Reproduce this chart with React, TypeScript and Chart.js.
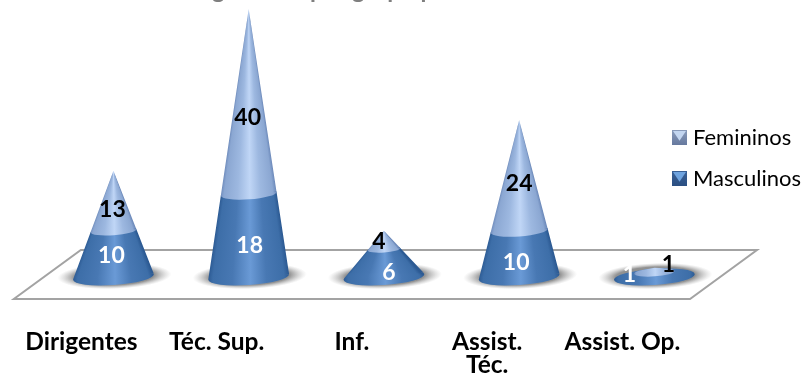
import React, { useEffect, useRef } from "react";
import { Chart, registerables } from "chart.js";

Chart.register(...registerables);

const categories: (string | string[])[] = ["Dirigentes", "Téc. Sup.", "Inf.", ["Assist.", "Téc."], "Assist. Op."];
const masculinos = [10, 18, 6, 10, 1];
const femininos = [13, 40, 4, 24, 1];
const titleText = "Segmentos por grupo pessoal";

// Label offsets from the middle of each cone section, in pixels.
const lowerLabelNudge = [[-2, 2], [1, 10], [5, 9], [-3, 9], [-25, 0]];
const upperLabelNudge = [[-1, 9], [-1, 16], [-5, 2], [0, 8], [14, -5]];

const FONT = "Lato, Carlito, sans-serif";
const DEPTH_X = 32;
const DEPTH_Y = 22;
const FLOOR_X = 67;
const FLOOR_Y = 49;
const CONE_R = 40.5;
const RY_RATIO = 8 / 40.5;
const TILT = (-4 * Math.PI) / 180;

const lowerShade = ["#2c5a93", "#3d6ea8", "#4878b3", "#6a9ad6", "#4878b3", "#3d6ea8", "#2c5a93"];
const upperShade = ["#6f8cbc", "#8ba7d2", "#9db8e0", "#c0d6f6", "#9db8e0", "#8ba7d2", "#6f8cbc"];
const shadeStops = [0, 0.06, 0.3, 0.52, 0.72, 0.94, 1];

function shadeFor(ctx: CanvasRenderingContext2D, cx: number, r: number, colors: string[]) {
  const g = ctx.createLinearGradient(cx - r, 0, cx + r, 0);
  colors.forEach((c, i) => g.addColorStop(shadeStops[i], c));
  return g;
}

// Outline of one cone section: its two end ellipses joined by their common tangents.
function frustumPath(
  ctx: CanvasRenderingContext2D,
  cx: number,
  y0: number,
  r0: number,
  y1: number,
  r1: number,
  coneHeight: number
) {
  const h = coneHeight / (CONE_R * RY_RATIO);
  ctx.beginPath();
  ctx.ellipse(cx, y0, r0, r0 * RY_RATIO, TILT, 0, Math.PI * 2);
  ctx.closePath();
  if (h > 1) {
    const kx = Math.sqrt(1 - 1 / (h * h));
    const ky = RY_RATIO / h;
    const point = (y: number, r: number, side: number) => {
      const lx = side * r * kx;
      const ly = -r * ky;
      return [cx + lx * Math.cos(TILT) - ly * Math.sin(TILT), y + lx * Math.sin(TILT) + ly * Math.cos(TILT)];
    };
    const a = point(y0, r0, -1);
    const b = point(y1, r1, -1);
    const c = point(y1, r1, 1);
    const d = point(y0, r0, 1);
    ctx.moveTo(a[0], a[1]);
    ctx.lineTo(b[0], b[1]);
    ctx.lineTo(c[0], c[1]);
    ctx.lineTo(d[0], d[1]);
    ctx.closePath();
  }
  if (r1 > 0) {
    ctx.moveTo(cx + r1, y1);
    ctx.ellipse(cx, y1, r1, r1 * RY_RATIO, TILT, 0, Math.PI * 2);
    ctx.closePath();
  }
}

function drawSection(
  ctx: CanvasRenderingContext2D,
  cx: number,
  baseY: number,
  apexY: number,
  y0: number,
  r0: number,
  y1: number,
  r1: number,
  colors: string[]
) {
  ctx.save();
  frustumPath(ctx, cx, y0, r0, y1, r1, baseY - apexY);
  ctx.clip();
  const ry = CONE_R * RY_RATIO;
  const flat = baseY - apexY < 2 * ry;
  const top = Math.floor(Math.min(y1, apexY) - ry - 2);
  const bottom = Math.ceil(y0 + ry + 2);
  for (let y = top; y < bottom; y++) {
    const t = (y - apexY) / (baseY - apexY);
    let r = Math.min(CONE_R, Math.max(1.5, CONE_R * t));
    // Keep the shading wide enough for the flare of the base ellipse.
    const v = (y - baseY) / (ry + 3);
    if (Math.abs(v) < 1) r = Math.max(r, CONE_R * Math.sqrt(1 - v * v));
    if (flat) r = Math.max(r0, 4);
    ctx.fillStyle = shadeFor(ctx, cx, r, colors);
    ctx.fillRect(cx - CONE_R - 4, y, CONE_R * 2 + 8, 1);
  }
  ctx.restore();
}

function drawShadow(ctx: CanvasRenderingContext2D, cx: number, y: number) {
  ctx.save();
  ctx.translate(cx, y);
  ctx.rotate(TILT / 2);
  ctx.scale(57, 13);
  const g = ctx.createRadialGradient(0, 0, 0, 0, 0, 1);
  g.addColorStop(0, "rgba(100,100,100,0.8)");
  g.addColorStop(0.7, "rgba(110,110,110,0.75)");
  g.addColorStop(1, "rgba(170,170,170,0)");
  ctx.fillStyle = g;
  ctx.beginPath();
  ctx.arc(0, 0, 1, 0, Math.PI * 2);
  ctx.fill();
  ctx.restore();
}

function drawLegendSwatch(ctx: CanvasRenderingContext2D, x: number, y: number, colors: string[]) {
  const s = 15;
  const g = ctx.createLinearGradient(0, y, 0, y + s);
  g.addColorStop(0, colors[0]);
  g.addColorStop(1, colors[1]);
  ctx.fillStyle = g;
  ctx.fillRect(x, y, s, s);
  ctx.fillStyle = colors[2];
  ctx.beginPath();
  ctx.moveTo(x + 1, y + 1);
  ctx.lineTo(x + s - 1, y + 1);
  ctx.lineTo(x + s / 2, y + s * 0.72);
  ctx.closePath();
  ctx.fill();
}

const conePlugin = {
  id: "cones",
  beforeDatasetsDraw(chart: any) {
    const { ctx, chartArea: a } = chart;
    ctx.save();
    ctx.strokeStyle = "#a3a3a3";
    ctx.lineWidth = 2;
    ctx.lineJoin = "miter";
    ctx.beginPath();
    ctx.moveTo(a.left, a.bottom);
    ctx.lineTo(a.right, a.bottom);
    ctx.lineTo(a.right + FLOOR_X, a.bottom - FLOOR_Y);
    ctx.lineTo(a.left + FLOOR_X, a.bottom - FLOOR_Y);
    ctx.closePath();
    ctx.stroke();
    ctx.restore();
  },
  afterDatasetsDraw(chart: any) {
    const { ctx } = chart;
    const lower = chart.getDatasetMeta(0).data;
    const upper = chart.getDatasetMeta(1).data;
    lower.forEach((bar: any, i: number) => {
      const cx = bar.x + DEPTH_X;
      const baseY = bar.base - DEPTH_Y;
      const midY = bar.y - DEPTH_Y;
      const apexY = upper[i].y - DEPTH_Y;
      const midR = (CONE_R * (midY - apexY)) / (baseY - apexY);
      drawShadow(ctx, cx + 1, baseY - 1);
      drawSection(ctx, cx, baseY, apexY, baseY, CONE_R, midY, midR, lowerShade);
      drawSection(ctx, cx, baseY, apexY, midY, midR, apexY, 0, upperShade);

      ctx.save();
      ctx.font = `bold 23px ${FONT}`;
      ctx.textAlign = "center";
      ctx.textBaseline = "middle";
      ctx.fillStyle = "#ffffff";
      ctx.fillText(String(masculinos[i]), cx + lowerLabelNudge[i][0], (baseY + midY) / 2 + lowerLabelNudge[i][1]);
      ctx.fillStyle = "#000000";
      ctx.fillText(String(femininos[i]), cx + upperLabelNudge[i][0], (midY + apexY) / 2 + upperLabelNudge[i][1]);
      ctx.restore();
    });

    // Heading sits high enough that only its descenders remain on the canvas.
    ctx.save();
    ctx.font = `bold 24px ${FONT}`;
    ctx.fillStyle = "#7f7f7f";
    ctx.textAlign = "left";
    ctx.textBaseline = "alphabetic";
    ctx.fillText(titleText, 186, -2);
    ctx.restore();

    // Legend, listed from the top of the stack downwards.
    const entries = [
      { dataset: chart.data.datasets[1], y: 130, colors: ["#8a9cbb", "#66799e", "#c3d6f0"] },
      { dataset: chart.data.datasets[0], y: 171, colors: ["#385f96", "#2b4f82", "#6ea3df"] },
    ];
    ctx.save();
    entries.forEach((e) => {
      drawLegendSwatch(ctx, 672, e.y, e.colors);
      ctx.font = `22px ${FONT}`;
      ctx.fillStyle = "#000000";
      ctx.textAlign = "left";
      ctx.textBaseline = "middle";
      ctx.fillText(e.dataset.label, 693, e.y + 8);
    });
    ctx.restore();
  },
};

export default function App() {
  const ref = useRef<HTMLCanvasElement>(null);
  useEffect(() => {
    const chart = new Chart(ref.current!, {
      type: "bar",
      plugins: [conePlugin],
      data: {
        labels: categories,
        datasets: [
          { label: "Masculinos", data: masculinos, backgroundColor: "transparent", borderWidth: 0 },
          { label: "Femininos", data: femininos, backgroundColor: "transparent", borderWidth: 0 },
        ],
      },
      options: {
        responsive: false,
        animation: false,
        layout: { padding: { left: 13, right: 114, top: 31, bottom: 0 } },
        plugins: { legend: { display: false }, title: { display: false }, tooltip: { enabled: false } },
        scales: {
          x: {
            stacked: true,
            grid: { display: false },
            border: { display: false },
            afterFit: (scale: any) => {
              scale.height = 86;
            },
            ticks: {
              padding: 24,
              maxRotation: 0,
              autoSkip: false,
              color: "#000000",
              font: { family: FONT, weight: "bold", size: 24.5, lineHeight: 0.93 },
            },
          },
          y: { stacked: true, display: false, min: 0, max: 58 },
        },
      } as any,
    });
    return () => chart.destroy();
  }, []);
  return (
    <div style={{ position: "fixed", left: 0, top: 0, width: 804, height: 385, background: "#ffffff" }}>
      <canvas ref={ref} width={804} height={385} style={{ display: "block" }} />
    </div>
  );
}
